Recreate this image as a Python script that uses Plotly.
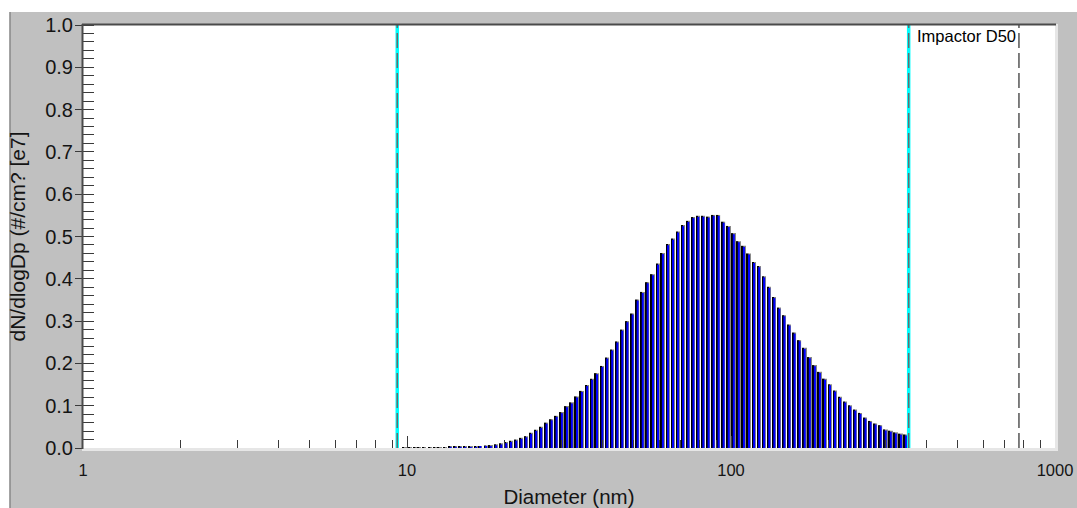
import math
import plotly.graph_objects as go

# ---------------- data ----------------
diam_nm = [
    9.82, 10.2, 10.6, 10.9, 11.3, 11.8, 12.2, 12.6, 13.1, 13.6,
    14.1, 14.6, 15.1, 15.7, 16.3, 16.8, 17.5, 18.1, 18.8, 19.5,
    20.2, 20.9, 21.7, 22.5, 23.3, 24.1, 25.0, 25.9, 26.9, 27.9,
    28.9, 30.0, 31.1, 32.2, 33.4, 34.6, 35.9, 37.2, 38.5, 40.0,
    41.4, 42.9, 44.5, 46.1, 47.8, 49.6, 51.4, 53.3, 55.2, 57.3,
    59.4, 61.5, 63.8, 66.1, 68.5, 71.0, 73.7, 76.4, 79.1, 82.0,
    85.1, 88.2, 91.4, 94.7, 98.2, 101.8, 105.5, 109.4, 113.4, 117.6,
    121.9, 126.3, 131.0, 135.8, 140.7, 145.9, 151.2, 156.8, 162.5, 168.5,
    174.7, 181.1, 187.7, 194.6, 201.7, 209.1, 216.7, 224.7, 232.9, 241.4,
    250.3, 259.5, 269.0, 278.8, 289.0, 299.6, 310.6, 322.0, 333.8, 346.0,
]
dndlogdp_e7 = [
    0.002, 0.002, 0.002, 0.002, 0.002, 0.002, 0.002, 0.002, 0.002, 0.003,
    0.003, 0.003, 0.003, 0.003, 0.004, 0.005, 0.006, 0.007, 0.009, 0.011,
    0.014, 0.017, 0.020, 0.024, 0.028, 0.036, 0.043, 0.050, 0.060, 0.068,
    0.076, 0.085, 0.099, 0.108, 0.122, 0.135, 0.149, 0.164, 0.177, 0.194,
    0.214, 0.233, 0.252, 0.280, 0.300, 0.318, 0.351, 0.369, 0.392, 0.411,
    0.436, 0.461, 0.482, 0.495, 0.512, 0.527, 0.537, 0.546, 0.549, 0.549,
    0.547, 0.551, 0.551, 0.535, 0.525, 0.508, 0.489, 0.478, 0.460, 0.440,
    0.430, 0.406, 0.381, 0.357, 0.332, 0.314, 0.292, 0.273, 0.255, 0.237,
    0.215, 0.196, 0.180, 0.164, 0.151, 0.136, 0.121, 0.110, 0.101, 0.091,
    0.083, 0.072, 0.064, 0.058, 0.054, 0.044, 0.041, 0.037, 0.034, 0.032,
]
x_tick_vals = [1, 10, 100, 1000]
x_tick_text = ["1", "10", "100", "1000"]
y_tick_vals = [0.0, 0.1, 0.2, 0.3, 0.4, 0.5, 0.6, 0.7, 0.8, 0.9, 1.0]
y_tick_text = ["0.0", "0.1", "0.2", "0.3", "0.4", "0.5", "0.6", "0.7", "0.8", "0.9", "1.0"]
scan_lower_nm = 9.33
scan_upper_nm = 353.5
impactor_d50_nm = 774
impactor_label = "Impactor D50"
x_title = "Diameter (nm)"
y_title = "dN/dlogDp (#/cm? [e7]"

# ---------------- layout geometry ----------------
W, H = 1077, 508
L, R, T, B = 83, 22, 25, 60
PW, PH = W - L - R, H - T - B
PX_PER_DECADE = PW / 3.0
PX_PER_UNIT_Y = PH / 1.0


def px_x(px):
    return (px - L) / PW


def px_y(py):
    return (H - B - py) / PH


FONT = "Liberation Sans, Arial, sans-serif"
GREY = "#C0C0C0"
TICK = "#3a3a3a"
TXT = "#141414"


def bar_span(a_px, b_px):
    """offsets/widths (data units on the log axis) for a bar covering [a_px, b_px] around each centre"""
    offs, wids = [], []
    for d in diam_nm:
        lo = d * 10 ** (a_px / PX_PER_DECADE)
        hi = d * 10 ** (b_px / PX_PER_DECADE)
        offs.append(lo - d)
        wids.append(hi - lo)
    return offs, wids


fig = go.Figure()

# bar look: grey right edge, black left edge + cap, blue body
g_off, g_w = bar_span(0.6, 1.8)
k_off, k_w = bar_span(-1.7, 0.0)
b_off, b_w = bar_span(-0.7, 1.3)
cap = 1.1 / PX_PER_UNIT_Y
blue_heights = [max(v - cap, 0.0) for v in dndlogdp_e7]

fig.add_trace(go.Bar(x=diam_nm, y=dndlogdp_e7, offset=g_off, width=g_w,
                     marker=dict(color="#8a8a8a", line=dict(width=0)),
                     showlegend=False, hoverinfo="skip"))
fig.add_trace(go.Bar(x=diam_nm, y=dndlogdp_e7, offset=k_off, width=k_w,
                     marker=dict(color="#000000", line=dict(width=0)),
                     showlegend=False, hoverinfo="skip"))
fig.add_trace(go.Bar(x=diam_nm, y=blue_heights, offset=b_off, width=b_w,
                     customdata=dndlogdp_e7,
                     marker=dict(color="#0000FF", line=dict(width=0)),
                     showlegend=False, hovertemplate="%{x} nm: %{customdata}<extra></extra>"))

for d in (scan_lower_nm, scan_upper_nm):
    fig.add_trace(go.Scatter(x=[d, d], y=[0, 1], mode="lines",
                             line=dict(color="#00FFFF", width=3.5),
                             showlegend=False, hoverinfo="skip"))
    fig.add_trace(go.Scatter(x=[d, d], y=[0, 1], mode="lines",
                             line=dict(color="#6a6a6a", width=1.5, dash="15px,5px"),
                             showlegend=False, hoverinfo="skip"))

fig.add_trace(go.Scatter(x=[impactor_d50_nm, impactor_d50_nm], y=[0, 1], mode="lines",
                         line=dict(color="#555555", width=1.5, dash="15px,5px"),
                         showlegend=False, hoverinfo="skip"))

fig.add_annotation(x=math.log10(impactor_d50_nm), y=1, xref="x", yref="y",
                   text=impactor_label, showarrow=False, xanchor="right", yanchor="top",
                   xshift=-1, yshift=0,
                   font=dict(family=FONT, size=16.5, color="#000000"))

x_minor_vals = [m * 10 ** e for e in range(0, 3) for m in range(2, 10)]

shapes = [
    dict(type="rect", xref="paper", yref="paper", x0=px_x(0), x1=px_x(W), y0=px_y(12), y1=px_y(0),
         fillcolor="#FFFFFF", line=dict(width=0), layer="below"),
    dict(type="rect", xref="paper", yref="paper", x0=px_x(0), x1=px_x(9.5), y0=px_y(H), y1=px_y(0),
         fillcolor="#FFFFFF", line=dict(width=0), layer="below"),
    dict(type="line", xref="paper", yref="paper", x0=px_x(10), x1=px_x(10), y0=px_y(H), y1=px_y(12),
         line=dict(color="#7a7a7a", width=1.2)),
    dict(type="line", xref="paper", yref="paper", x0=px_x(L - 1), x1=px_x(W - R + 2), y0=px_y(H - B + 1.5), y1=px_y(H - B + 1.5),
         line=dict(color="#E6E6E6", width=3)),
    dict(type="line", xref="paper", yref="paper", x0=px_x(W - R + 1.5), x1=px_x(W - R + 1.5), y0=px_y(H - B + 3), y1=px_y(T - 1),
         line=dict(color="#E6E6E6", width=3)),
    dict(type="line", xref="paper", yref="paper", x0=px_x(L - 1), x1=px_x(W - R + 1), y0=px_y(T - 0.5), y1=px_y(T - 0.5),
         line=dict(color="#4a4a4a", width=2)),
    dict(type="line", xref="paper", yref="paper", x0=px_x(L - 0.5), x1=px_x(L - 0.5), y0=px_y(H - B + 1), y1=px_y(T - 1),
         line=dict(color="#4a4a4a", width=2)),
]

fig.update_layout(
    width=W, height=H,
    margin=dict(l=L, r=R, t=T, b=B, pad=0),
    paper_bgcolor=GREY, plot_bgcolor="#FFFFFF",
    font=dict(family=FONT, size=16, color=TXT),
    showlegend=False,
    shapes=shapes,
    barmode="overlay",
    xaxis=dict(
        type="log", range=[0, 3], autorange=False,
        tickmode="array", tickvals=x_tick_vals, ticktext=x_tick_text,
        ticks="inside", ticklen=12, tickwidth=1, tickcolor=TICK,
        minor=dict(tickmode="array", tickvals=x_minor_vals, ticks="inside",
                   ticklen=8, tickwidth=1, tickcolor=TICK),
        ticklabelstandoff=10,
        tickfont=dict(family=FONT, size=16.5, color=TXT),
        showgrid=False, zeroline=False, showline=False,
        title=dict(text=x_title, standoff=13, font=dict(family=FONT, size=20.5, color=TXT)),
        automargin=False,
    ),
    yaxis=dict(
        range=[0, 1], autorange=False,
        tickmode="array", tickvals=y_tick_vals, ticktext=y_tick_text,
        ticks="outside", ticklen=7, tickwidth=1, tickcolor=TICK,
        minor=dict(ticks="inside", dtick=0.02, ticklen=11, tickwidth=1, tickcolor=TICK),
        ticklabelstandoff=-2,
        tickfont=dict(family=FONT, size=20, color=TXT),
        showgrid=False, zeroline=False, showline=False,
        title=dict(text=y_title, standoff=13, font=dict(family=FONT, size=21, color=TXT)),
        automargin=False,
    ),
)

fig.write_html(
    "out.html",
    config={"displayModeBar": False},
    post_script="document.body.style.margin='0';document.body.style.overflow='hidden';",
)
